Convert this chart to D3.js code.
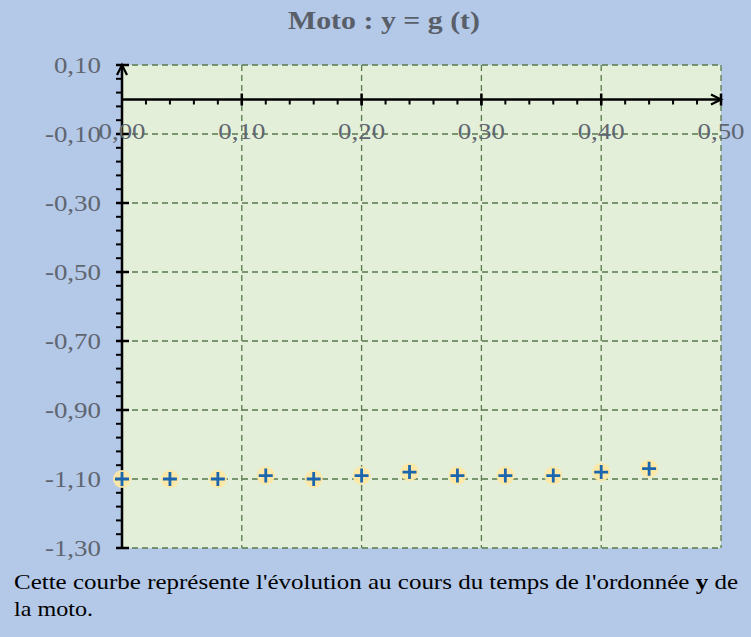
<!DOCTYPE html>
<html><head><meta charset="utf-8">
<script src="https://cdn.jsdelivr.net/npm/d3@7"></script>
<style>html,body{margin:0;padding:0;background:#b4c8e8;}svg{display:block;}</style>
</head><body>
<script>
const tValues = [0, 0.04, 0.08, 0.12, 0.16, 0.20, 0.24, 0.28, 0.32, 0.36, 0.40, 0.44];
const yValues = [-1.10, -1.10, -1.10, -1.09, -1.10, -1.09, -1.08, -1.09, -1.09, -1.09, -1.08, -1.07];
const xTicks = [0, 0.1, 0.2, 0.3, 0.4, 0.5];
const yTicks = [0.10, -0.10, -0.30, -0.50, -0.70, -0.90, -1.10, -1.30];
const title = "Moto : y = g (t)";

const W = 751, H = 637;
const SERIF = "'Liberation Serif', 'Times New Roman', serif";
const svg = d3.select("body").append("svg").attr("width", W).attr("height", H);
svg.append("rect").attr("width", W).attr("height", H).attr("fill", "#b4c8e8");

const x = d3.scaleLinear().domain([0, 0.5]).range([122, 721]);
const y = d3.scaleLinear().domain([-1.30, 0.10]).range([548, 65]);
const fmt = v => d3.format(".2f")(v).replace(".", ",").replace("−", "-");
const stretch = (sel, k) => sel.each(function () {
  const L = this.getComputedTextLength();
  d3.select(this).attr("textLength", L * k).attr("lengthAdjust", "spacingAndGlyphs");
});

// plot background
svg.append("rect").attr("x", x(0)).attr("y", y(0.10))
  .attr("width", x(0.5) - x(0)).attr("height", y(-1.30) - y(0.10)).attr("fill", "#e3efd8");

// grid
const grid = svg.append("g").attr("stroke", "#587a4c").attr("stroke-width", 1.3).attr("stroke-dasharray", "6,4");
grid.selectAll("line.v").data(xTicks.filter(d => d > 0)).join("line")
  .attr("x1", d => x(d)).attr("x2", d => x(d)).attr("y1", y(0.10)).attr("y2", y(-1.30));
grid.selectAll("line.h").data(yTicks).join("line")
  .attr("x1", x(0)).attr("x2", x(0.5)).attr("y1", d => y(d)).attr("y2", d => y(d));

// axes
const axes = svg.append("g").attr("stroke", "#000");
axes.append("line").attr("x1", x(0)).attr("x2", x(0)).attr("y1", y(-1.30) + 1).attr("y2", y(0.10)).attr("stroke-width", 2.5);
axes.append("line").attr("x1", x(0)).attr("x2", x(0.5)).attr("y1", y(0)).attr("y2", y(0)).attr("stroke-width", 2.5);
svg.append("path").attr("d", `M${x(0)-5},${y(0.10)+10} L${x(0)},${y(0.10)} L${x(0)+5},${y(0.10)+10}`)
  .attr("fill", "none").attr("stroke", "#000").attr("stroke-width", 2.2);
svg.append("path").attr("d", `M${x(0.5)-10},${y(0)-5} L${x(0.5)},${y(0)} L${x(0.5)-10},${y(0)+5}`)
  .attr("fill", "none").attr("stroke", "#000").attr("stroke-width", 2.2);
axes.append("line").attr("x1", x(0.5)).attr("x2", x(0.5)).attr("y1", y(0)-6).attr("y2", y(0)+6).attr("stroke-width", 2.5);

const yMinor = d3.range(0, 36).map(i => +(0.10 - i * 0.04).toFixed(2)).filter(v => v >= -1.30);
axes.selectAll("line.ym").data(yMinor).join("line")
  .attr("x1", x(0) - 6).attr("x2", x(0)).attr("y1", d => y(d)).attr("y2", d => y(d)).attr("stroke-width", 2);
axes.selectAll("line.yM").data(yTicks).join("line")
  .attr("x1", x(0) - 6).attr("x2", x(0) + 7).attr("y1", d => y(d)).attr("y2", d => y(d)).attr("stroke-width", 2.5);

const xMinor = d3.range(1, 25).map(i => +(i * 0.02).toFixed(2));
axes.selectAll("line.xm").data(xMinor).join("line")
  .attr("x1", d => x(d)).attr("x2", d => x(d)).attr("y1", y(0)).attr("y2", y(0) + 5).attr("stroke-width", 2);
axes.selectAll("line.xM").data(xTicks.filter(d => d > 0 && d < 0.5)).join("line")
  .attr("x1", d => x(d)).attr("x2", d => x(d)).attr("y1", y(0) - 6).attr("y2", y(0) + 6).attr("stroke-width", 2.5);

// tick labels
const lab = svg.append("g").attr("font-family", SERIF).attr("font-size", 23).attr("fill", "#5f6670");
lab.selectAll("text.y").data(yTicks).join("text")
  .attr("x", 101).attr("y", d => y(d)).attr("dy", "0.35em").attr("text-anchor", "end").text(d => fmt(d))
  .call(stretch, 1.17);
lab.selectAll("text.x").data(xTicks).join("text")
  .attr("x", d => x(d)).attr("y", 131).attr("dy", "0.35em").attr("text-anchor", "middle").text(d => fmt(d))
  .call(stretch, 1.17);

// points
const pts = svg.append("g").selectAll("g").data(tValues.map((t, i) => ({t, v: yValues[i]}))).join("g")
  .attr("transform", d => `translate(${x(d.t)},${y(d.v)})`);
pts.append("circle").attr("r", 9).attr("fill", "#fde7a4").attr("opacity", 0.95);
pts.append("path").attr("d", "M-7,0H7M0,-7V7").attr("stroke", "#1b66ac").attr("stroke-width", 2.8);

// title
svg.append("text").attr("x", 384).attr("y", 29).attr("text-anchor", "middle")
  .attr("font-family", SERIF).attr("font-weight", "bold")
  .attr("font-size", 25).attr("fill", "#595f68").text(title)
  .attr("textLength", 192).attr("lengthAdjust", "spacingAndGlyphs");

// caption
const cap = svg.append("g").attr("font-family", SERIF).attr("font-size", 21).attr("fill", "#000");
const l1 = cap.append("text").attr("x", 14).attr("y", 589).attr("textLength", 724).attr("lengthAdjust", "spacingAndGlyphs");
l1.append("tspan").text("Cette courbe représente l'évolution au cours du temps de l'ordonnée ");
l1.append("tspan").attr("font-weight", "bold").text("y");
l1.append("tspan").text(" de");
cap.append("text").attr("x", 14).attr("y", 616).attr("textLength", 79).attr("lengthAdjust", "spacingAndGlyphs").text("la moto.");
</script>
</body></html>
